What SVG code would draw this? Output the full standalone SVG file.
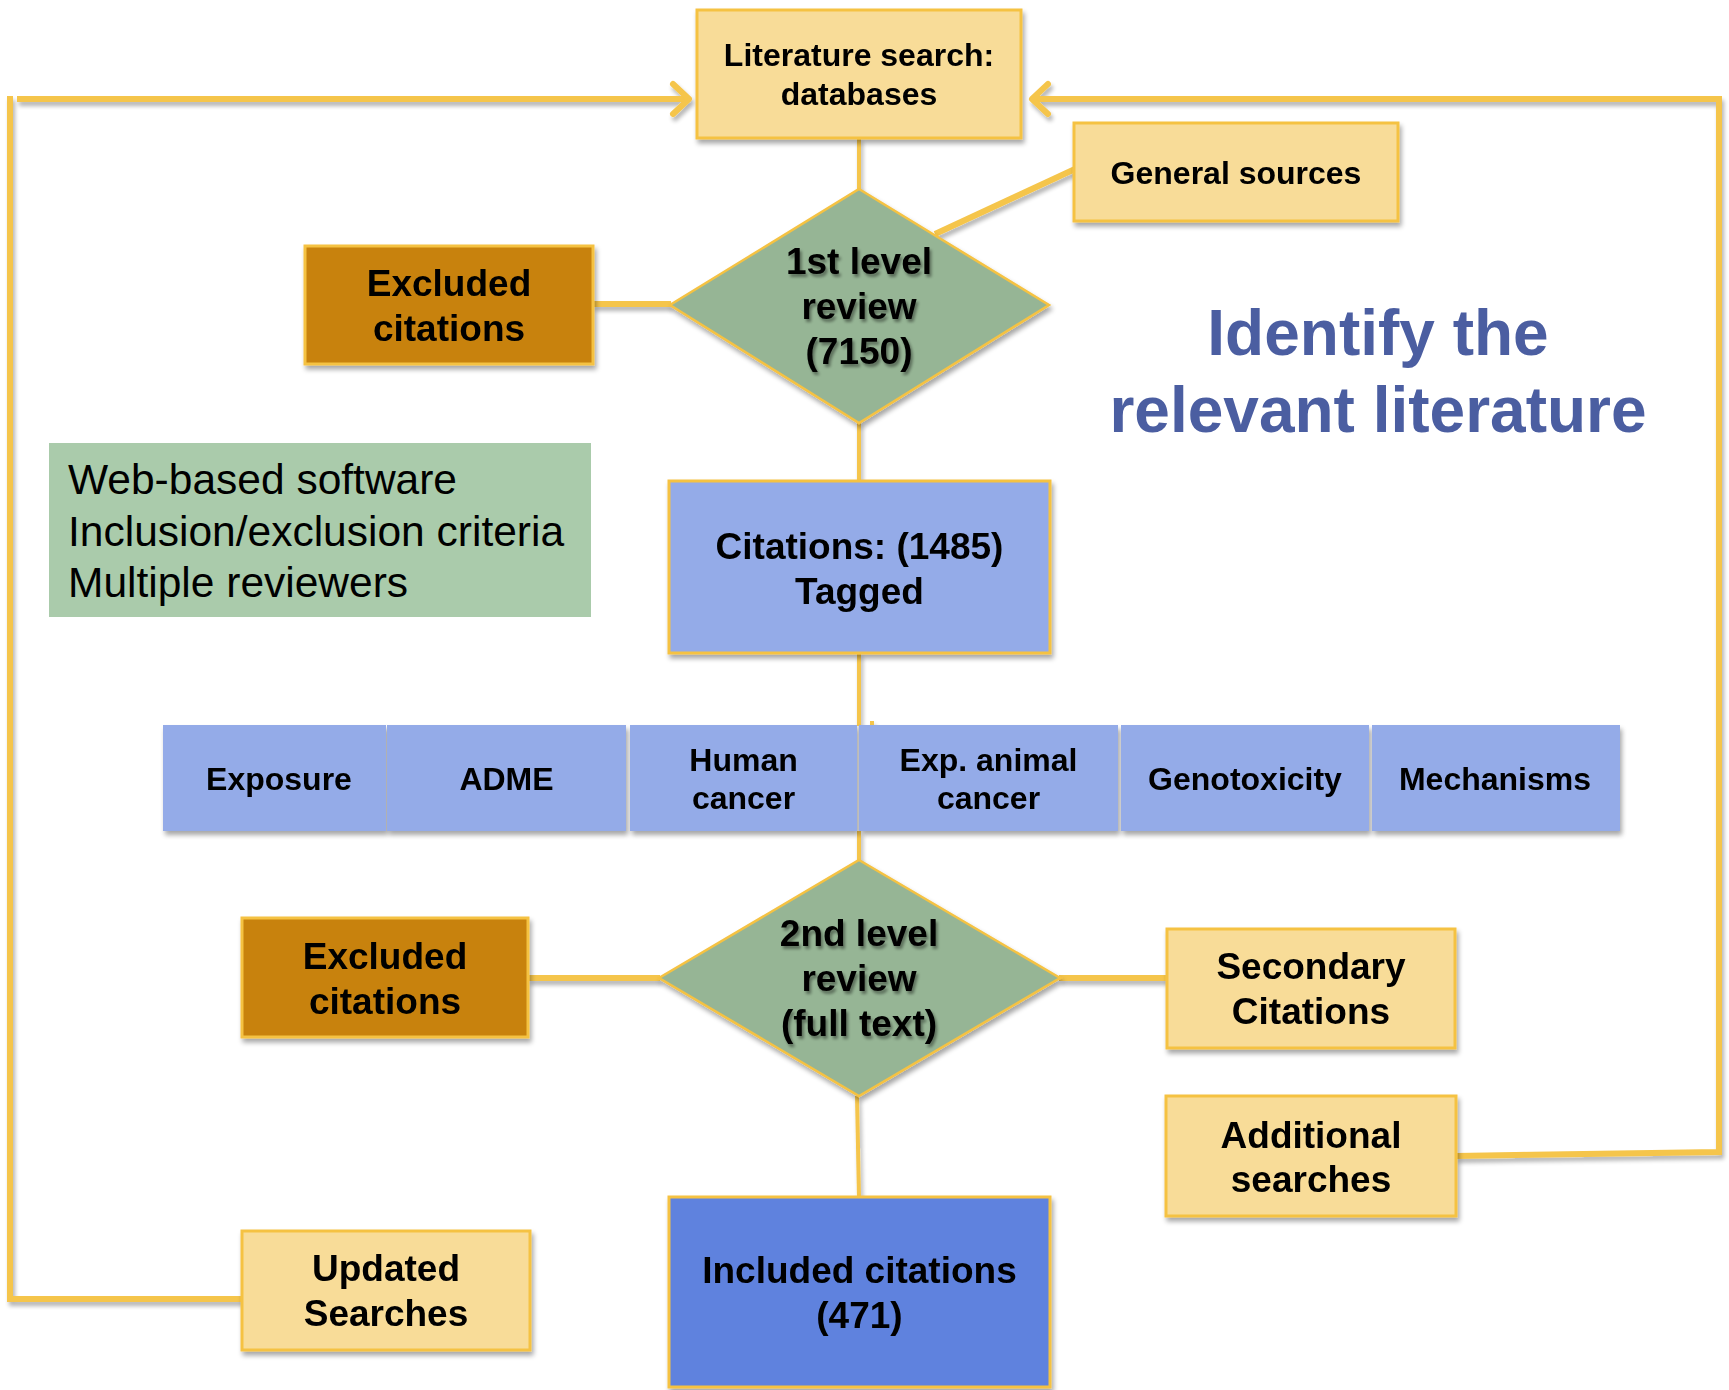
<svg xmlns="http://www.w3.org/2000/svg" width="1729" height="1390" viewBox="0 0 1729 1390">
  <defs>
    <filter id="shadow" x="-10%" y="-10%" width="120%" height="130%">
      <feGaussianBlur in="SourceAlpha" stdDeviation="2.5"/>
      <feOffset dx="2" dy="4" result="b"/>
      <feComponentTransfer><feFuncA type="linear" slope="0.35"/></feComponentTransfer>
      <feMerge><feMergeNode/><feMergeNode in="SourceGraphic"/></feMerge>
    </filter>
    <filter id="lineShadow" x="-5%" y="-50%" width="110%" height="200%">
      <feGaussianBlur in="SourceAlpha" stdDeviation="2"/>
      <feOffset dx="2" dy="4" result="b"/>
      <feComponentTransfer><feFuncA type="linear" slope="0.3"/></feComponentTransfer>
      <feMerge><feMergeNode/><feMergeNode in="SourceGraphic"/></feMerge>
    </filter>
    <filter id="textShadow" x="-10%" y="-20%" width="120%" height="150%">
      <feGaussianBlur in="SourceAlpha" stdDeviation="1.5"/>
      <feOffset dx="2" dy="3" result="b"/>
      <feComponentTransfer><feFuncA type="linear" slope="0.4"/></feComponentTransfer>
      <feMerge><feMergeNode/><feMergeNode in="SourceGraphic"/></feMerge>
    </filter>
    <marker id="chevron" markerUnits="userSpaceOnUse" markerWidth="40" markerHeight="40" viewBox="-30 -20 40 40" refX="0" refY="0" orient="auto">
      <path d="M -16,-15 L 0,0 L -16,15" fill="none" stroke="#f5c54b" stroke-width="6" stroke-linecap="round" stroke-linejoin="round"/>
    </marker>
    <style>
      .conn { stroke: #f5c54b; fill: none; stroke-linecap: butt; }
      .thick { stroke-width: 6; }
      .thin { stroke-width: 4; }
      .yellow { fill: #f8dc98; stroke: #f5c243; stroke-width: 3; }
      .orange { fill: #c8820d; stroke: #f5c243; stroke-width: 3; }
      .blue { fill: #94abe8; stroke: #f5c243; stroke-width: 3; }
      .cat { fill: #94abe8; }
      .included { fill: #5e82de; stroke: #f5c243; stroke-width: 3; }
      .diamond { fill: #96b595; stroke: #f5c243; stroke-width: 2.5; }
      .note { fill: #aacbab; }
      text { font-family: "Liberation Sans", Arial, sans-serif; fill: #000; }
      .lbl { font-weight: bold; text-anchor: middle; }
      .s31 { font-size: 32px; }
      .s36 { font-size: 37px; }
      .noteText { font-size: 42.5px; }
      .title { font-size: 64px; font-weight: bold; fill: #4b5ea1; text-anchor: middle; }
    </style>
  </defs>

  <rect width="1729" height="1390" fill="#ffffff"/>

  <!-- connectors -->
  <g id="connectors" filter="url(#lineShadow)">
    <!-- left feedback loop: Updated Searches back to the database search -->
    <polyline class="conn thick" points="242,1299 10,1299 10,96"/>
    <line class="conn thick" x1="17" y1="99" x2="689" y2="99" marker-end="url(#chevron)"/>
    <!-- right feedback loop: Additional searches back to the database search -->
    <polyline class="conn thick" points="1456,1156 1719,1152 1719,99"/>
    <line class="conn thick" x1="1722" y1="99" x2="1032" y2="99" marker-end="url(#chevron)"/>
    <!-- main vertical flow -->
    <line class="conn thin" x1="859" y1="138" x2="859" y2="190"/>
    <line class="conn thin" x1="859" y1="422" x2="859" y2="482"/>
    <line class="conn thin" x1="859" y1="653" x2="859" y2="726"/>
    <line class="conn thin" x1="872" y1="721" x2="872" y2="726"/>
    <line class="conn thin" x1="859" y1="831" x2="859" y2="861"/>
    <line class="conn thin" x1="857" y1="1096" x2="859" y2="1198"/>
    <!-- side branches -->
    <line class="conn thick" x1="593" y1="304" x2="671" y2="304"/>
    <line class="conn thick" x1="935" y1="234" x2="1075" y2="169"/>
    <line class="conn thick" x1="528" y1="978" x2="660" y2="978"/>
    <line class="conn thick" x1="1059" y1="978" x2="1167" y2="978"/>
  </g>

  <!-- nodes -->
  <g id="literature-search" filter="url(#shadow)">
    <rect class="yellow" x="697" y="10" width="324" height="128"/>
    <text class="lbl s31" x="859" y="66">Literature search:</text>
    <text class="lbl s31" x="859" y="105">databases</text>
  </g>

  <g id="general-sources" filter="url(#shadow)">
    <rect class="yellow" x="1074" y="123" width="324" height="98"/>
    <text class="lbl s31" x="1236" y="184">General sources</text>
  </g>

  <g id="excluded-1" filter="url(#shadow)">
    <rect class="orange" x="305" y="246" width="288" height="118"/>
    <text class="lbl s36" x="449" y="296">Excluded</text>
    <text class="lbl s36" x="449" y="341">citations</text>
  </g>

  <g id="review-1">
    <polygon class="diamond" filter="url(#shadow)" points="859,189 1049,305 859,423 670,305"/>
    <g filter="url(#textShadow)">
      <text class="lbl s36" x="859" y="274">1st level</text>
      <text class="lbl s36" x="859" y="319">review</text>
      <text class="lbl s36" x="859" y="364">(7150)</text>
    </g>
  </g>

  <g id="title">
    <text class="title" x="1378" y="355">Identify the</text>
    <text class="title" x="1378" y="432">relevant literature</text>
  </g>

  <g id="note">
    <rect class="note" x="49" y="443" width="542" height="174"/>
    <text class="noteText" x="68" y="494">Web-based software</text>
    <text class="noteText" x="68" y="546">Inclusion/exclusion criteria</text>
    <text class="noteText" x="68" y="597">Multiple reviewers</text>
  </g>

  <g id="citations-tagged" filter="url(#shadow)">
    <rect class="blue" x="669" y="481" width="381" height="172"/>
    <text class="lbl s36" x="859.5" y="559">Citations: (1485)</text>
    <text class="lbl s36" x="859.5" y="604">Tagged</text>
  </g>

  <g id="categories" filter="url(#shadow)">
    <g id="cat-exposure">
      <rect class="cat" x="163" y="725" width="223" height="106"/>
      <text class="lbl s31" x="279" y="790">Exposure</text>
    </g>
    <g id="cat-adme">
      <rect class="cat" x="387" y="725" width="239" height="106"/>
      <text class="lbl s31" x="506.5" y="790">ADME</text>
    </g>
    <g id="cat-human">
      <rect class="cat" x="630" y="725" width="227" height="106"/>
      <text class="lbl s31" x="743.5" y="771">Human</text>
      <text class="lbl s31" x="743.5" y="809">cancer</text>
    </g>
    <g id="cat-animal">
      <rect class="cat" x="859" y="725" width="259" height="106"/>
      <text class="lbl s31" x="988.5" y="771">Exp. animal</text>
      <text class="lbl s31" x="988.5" y="809">cancer</text>
    </g>
    <g id="cat-genotox">
      <rect class="cat" x="1121" y="725" width="248" height="106"/>
      <text class="lbl s31" x="1245" y="790">Genotoxicity</text>
    </g>
    <g id="cat-mechanisms">
      <rect class="cat" x="1372" y="725" width="248" height="106"/>
      <text class="lbl s31" x="1495" y="790">Mechanisms</text>
    </g>
  </g>

  <g id="excluded-2" filter="url(#shadow)">
    <rect class="orange" x="242" y="918" width="286" height="119"/>
    <text class="lbl s36" x="385" y="969">Excluded</text>
    <text class="lbl s36" x="385" y="1014">citations</text>
  </g>

  <g id="review-2">
    <polygon class="diamond" filter="url(#shadow)" points="859,860 1060,978 859,1096 659,978"/>
    <g filter="url(#textShadow)">
      <text class="lbl s36" x="859" y="946">2nd level</text>
      <text class="lbl s36" x="859" y="991">review</text>
      <text class="lbl s36" x="859" y="1036">(full text)</text>
    </g>
  </g>

  <g id="secondary-citations" filter="url(#shadow)">
    <rect class="yellow" x="1167" y="929" width="288" height="119"/>
    <text class="lbl s36" x="1311" y="979">Secondary</text>
    <text class="lbl s36" x="1311" y="1024">Citations</text>
  </g>

  <g id="additional-searches" filter="url(#shadow)">
    <rect class="yellow" x="1166" y="1096" width="290" height="120"/>
    <text class="lbl s36" x="1311" y="1148">Additional</text>
    <text class="lbl s36" x="1311" y="1192">searches</text>
  </g>

  <g id="updated-searches" filter="url(#shadow)">
    <rect class="yellow" x="242" y="1231" width="288" height="119"/>
    <text class="lbl s36" x="386" y="1281">Updated</text>
    <text class="lbl s36" x="386" y="1326">Searches</text>
  </g>

  <g id="included-citations" filter="url(#shadow)">
    <rect class="included" x="669" y="1197" width="381" height="190"/>
    <text class="lbl s36" x="859.5" y="1283">Included citations</text>
    <text class="lbl s36" x="859.5" y="1328">(471)</text>
  </g>
</svg>
